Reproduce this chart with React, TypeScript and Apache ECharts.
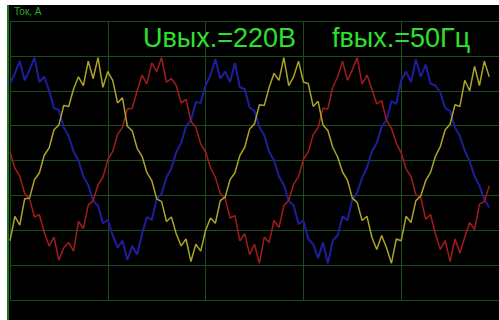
import React, { useEffect, useRef } from "react";
import * as echarts from "echarts";

// Sampling clock: one sample every 0.5 ms (period 20 ms at 50 Hz)
const sampleTimesMs: number[] = Array.from({ length: 99 }, (_, i) => i * 0.5);

// Phase currents, A
const phaseYellow: number[] = [
  -2.30, -1.60, -1.85, -1.10, -1.08, -0.55, -0.36, 0.15, 0.36, 0.88,
  1.02, 1.58, 1.55, 2.05, 2.40, 2.15, 2.85, 2.35, 2.95, 2.10,
  2.55, 2.30, 1.65, 1.80, 0.98, 0.85, 0.35, 0.12, -0.35, -0.58,
  -1.10, -1.18, -1.75, -1.62, -2.10, -2.45, -2.25, -2.90, -2.40, -2.60,
  -2.00, -1.65, -1.80, -1.15, -1.05, -0.55, -0.35, 0.14, 0.38, 0.90,
  1.05, 1.60, 1.58, 2.10, 2.50, 2.30, 2.95, 2.15, 2.40, 2.85,
  2.25, 2.20, 1.55, 1.70, 1.02, 0.86, 0.38, 0.10, -0.33, -0.56,
  -1.08, -1.20, -1.72, -1.60, -2.20, -2.55, -2.15, -2.50, -2.95, -2.25,
  -2.30, -1.60, -1.78, -1.15, -1.02, -0.58, -0.34, 0.12, 0.40, 0.88,
  1.04, 1.60, 1.55, 2.30, 2.00, 2.70, 2.15, 2.85, 2.40,
];

const phaseRed: number[] = [
  0.25, -0.22, -0.45, -0.95, -1.10, -1.62, -1.55, -2.05, -2.45, -2.20,
  -2.85, -2.50, -2.35, -2.60, -1.75, -1.95, -1.28, -1.15, -0.70, -0.48,
  0.02, 0.26, 0.75, 0.95, 1.48, 1.50, 2.00, 2.45, 2.20, 2.80,
  2.55, 2.95, 2.25, 2.35, 2.15, 1.65, 1.75, 1.12, 0.95, 0.48,
  0.24, -0.20, -0.48, -0.95, -1.08, -1.65, -1.58, -2.30, -2.10, -2.70,
  -2.40, -2.95, -2.20, -2.35, -1.72, -1.92, -1.30, -1.14, -0.68, -0.46,
  0.03, 0.25, 0.74, 0.94, 1.50, 1.48, 2.10, 2.40, 2.85, 2.30,
  2.60, 2.95, 2.20, 2.45, 2.05, 1.62, 1.72, 1.15, 0.92, 0.50,
  0.22, -0.24, -0.46, -0.98, -1.06, -1.68, -1.55, -2.10, -2.55, -2.30,
  -2.90, -2.25, -2.65, -2.20, -1.78, -1.98, -1.25, -1.18, -0.72,
];

const phaseBlue: number[] = [
  2.20, 2.50, 2.85, 2.30, 2.60, 2.95, 2.25, 2.40, 2.00, 1.50,
  1.45, 0.95, 0.70, 0.26, 0.00, -0.46, -0.70, -1.15, -1.30, -1.80,
  -1.70, -2.15, -2.50, -2.30, -2.85, -2.45, -2.70, -2.10, -1.62, -1.70,
  -1.10, -0.95, -0.48, -0.22, 0.24, 0.50, 0.98, 1.15, 1.68, 1.65,
  2.15, 2.45, 2.90, 2.35, 2.55, 2.25, 2.80, 2.10, 2.05, 1.52,
  1.42, 0.96, 0.72, 0.25, 0.00, -0.45, -0.70, -1.16, -1.28, -1.82,
  -1.72, -2.25, -2.40, -2.80, -2.35, -2.95, -2.30, -2.15, -1.60, -1.72,
  -1.12, -0.92, -0.50, -0.20, 0.25, 0.50, 0.96, 1.16, 1.70, 1.62,
  2.30, 2.55, 2.25, 2.90, 2.40, 2.75, 2.20, 2.15, 1.95, 1.50,
  1.42, 0.95, 0.70, 0.28, -0.02, -0.45, -0.72, -1.12, -1.35,
];

const axisTitle = "Ток, А";
const voltageLabel = "Uвых.=220В";
const frequencyLabel = "fвых.=50Гц";

const pairs = (ys: number[]) => ys.map((y, i) => [sampleTimesMs[i], y]);

export default function App() {
  const ref = useRef<HTMLDivElement>(null);

  useEffect(() => {
    if (!ref.current) return;
    const chart = echarts.init(ref.current, undefined, { renderer: "svg" });
    const gridColor = "#1b4a1b";
    chart.setOption({
      animation: false,
      backgroundColor: "#000000",
      grid: { left: 3, top: 16, width: 500, height: 279, show: false },
      xAxis: {
        type: "value",
        min: 0,
        max: 50,
        interval: 10,
        axisLine: { show: false },
        axisTick: { show: false },
        axisLabel: { show: false },
        splitLine: { show: true, lineStyle: { color: gridColor, width: 1 } },
      },
      yAxis: {
        type: "value",
        min: -4,
        max: 4,
        interval: 1,
        axisLine: { show: false },
        axisTick: { show: false },
        axisLabel: { show: false },
        splitLine: { show: true, lineStyle: { color: gridColor, width: 1 } },
      },
      graphic: [
        {
          type: "line",
          shape: { x1: 1, y1: 0, x2: 1, y2: 315 },
          style: { stroke: "#1f9a1f", lineWidth: 1.5 },
          z: 10,
        },
        {
          type: "text",
          x: 7,
          y: 6.5,
          style: {
            text: axisTitle,
            fill: "#25b025",
            font: "10px 'Liberation Sans', Arial, sans-serif",
            verticalAlign: "middle",
          },
          z: 10,
        },
        {
          type: "text",
          x: 136,
          y: 32.5,
          style: {
            text: voltageLabel,
            fill: "#2ee02e",
            font: "27px 'Liberation Sans', Arial, sans-serif",
            verticalAlign: "middle",
          },
          z: 10,
        },
        {
          type: "text",
          x: 325,
          y: 32.5,
          style: {
            text: frequencyLabel,
            fill: "#2ee02e",
            font: "27px 'Liberation Sans', Arial, sans-serif",
            verticalAlign: "middle",
          },
          z: 10,
        },
      ],
      series: [
        {
          type: "line",
          data: pairs(phaseBlue),
          showSymbol: false,
          silent: true,
          lineStyle: { color: "#1e1e9c", width: 2 },
        },
        {
          type: "line",
          data: pairs(phaseRed),
          showSymbol: false,
          silent: true,
          lineStyle: { color: "#a21c1c", width: 1.5 },
        },
        {
          type: "line",
          data: pairs(phaseYellow),
          showSymbol: false,
          silent: true,
          lineStyle: { color: "#aca426", width: 1.5 },
        },
      ],
    });
    return () => chart.dispose();
  }, []);

  return (
    <div
      ref={ref}
      style={{
        position: "absolute",
        left: 7,
        top: 5,
        width: 492,
        height: 315,
        background: "#000",
      }}
    />
  );
}
